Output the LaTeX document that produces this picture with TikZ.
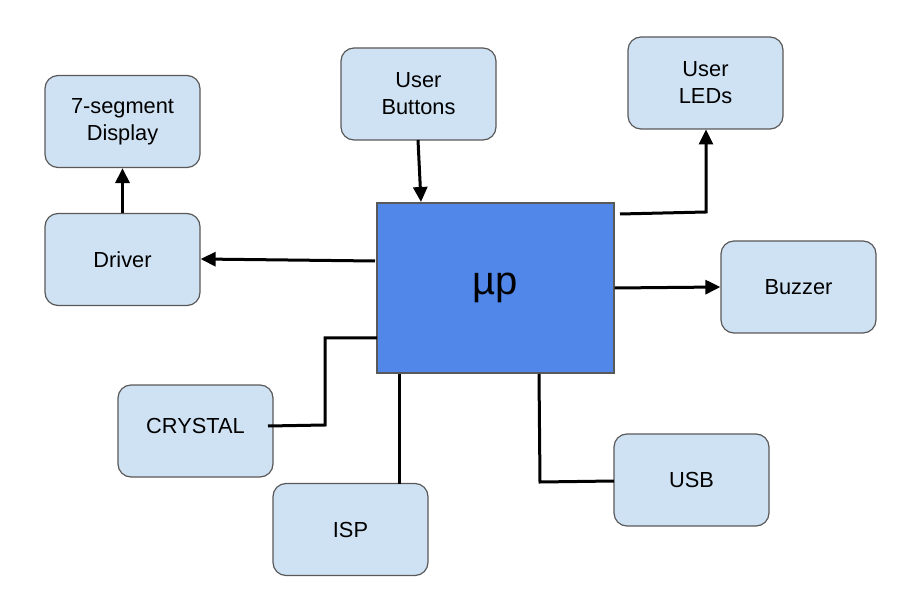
\documentclass[tikz,border=0pt]{standalone}
\usepackage{fontspec}
\setmainfont{Liberation Sans}
\usetikzlibrary{arrows.meta}
\definecolor{boxfill}{HTML}{CFE2F3}
\definecolor{boxline}{HTML}{595959}
\definecolor{upfill}{HTML}{5087E9}
\begin{document}
\begin{tikzpicture}[x=1pt,y=-1pt,
  blk/.style={draw=boxline,line width=1.2pt,fill=boxfill,rounded corners=13pt,
    minimum width=155pt,minimum height=92pt,align=center,
    font=\fontsize{21.8}{26.8}\selectfont,inner sep=0pt},
  cpu/.style={draw=boxline,line width=1.2pt,fill=upfill,
    minimum width=237pt,minimum height=170pt,inner sep=0pt,
    font=\fontsize{40}{44}\selectfont},
  wire/.style={line width=3pt,black},
  arr/.style={wire,-{Triangle[length=15pt,width=14pt]}}]
\useasboundingbox (0,0) rectangle (922,604);
\node[blk] (seg) at (122.5,121.5) {7-segment\\Display};
\node[blk] (drv) at (122.5,259.5) {Driver};
\node[blk] (btn) at (418.5,94) {User\\Buttons};
\node[blk] (led) at (705.5,83) {User\\LEDs};
\node[blk] (buz) at (798.5,287) {Buzzer};
\node[blk] (cry) at (195.5,431) {};
\node[font=\fontsize{21.8}{26.8}\selectfont,inner sep=0pt] (crylbl) at (195.5,426) {CRYSTAL};
\node[blk] (isp) at (350.5,529.5) {ISP};
\node[blk] (usb) at (691.5,480) {USB};
\node[cpu] (up) at (495.5,288) {µp};
% coordinates for connector ends
\coordinate (drvA) at (375,261);
\coordinate (btnB) at (421,202);
\coordinate (ledA) at (620,214);
\coordinate (cryA) at (268,426);
\coordinate (cryB) at (377,338);
\coordinate (ispA) at (399,374);
\coordinate (usbA) at (539,374);
% connectors
\draw[arr] (drv.north -| seg.south) -- (seg.south);
\draw[arr] (drvA) -- (drv.east |- 0,259);
\draw[arr] (418,140) -- (btnB);
\draw[arr] (ledA) -- (706,212) -- (706,129.5);
\draw[arr] (up.east) -- (buz.west);
\draw[wire] (cryA) -- (325,425) -- (325,338) -- (cryB);
\draw[wire] (ispA) -- (399,483.5);
\draw[wire] (usbA) -- (540,482) -- (614,481);
\end{tikzpicture}
\end{document}
